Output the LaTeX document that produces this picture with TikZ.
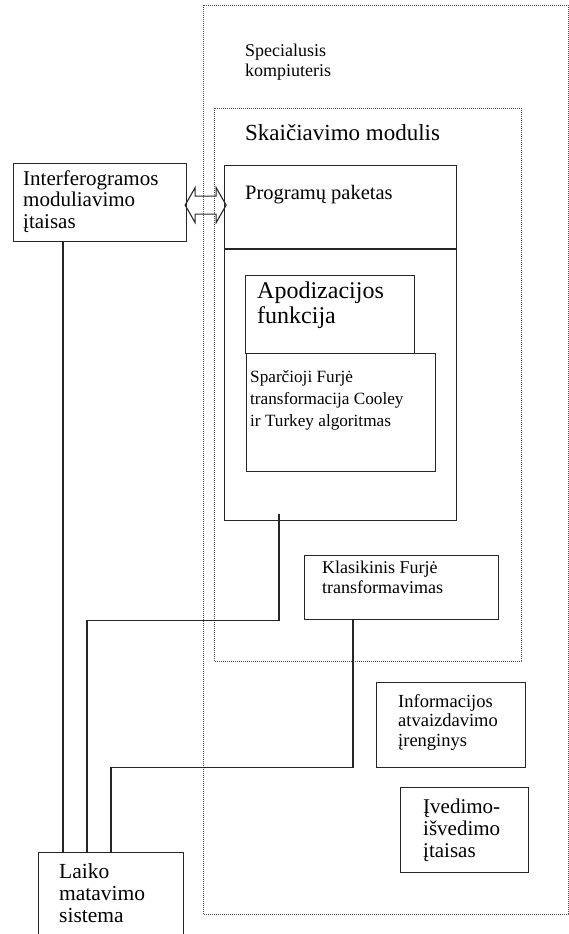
\documentclass[tikz,border=0pt]{standalone}
\usepackage{fontspec}
\setmainfont{Liberation Serif}
\usetikzlibrary{calc}

\tikzset{
  blokas/.style={draw=black!85, line width=1.3pt, anchor=north west, inner sep=0pt},
  taskuota/.style={draw=black!70, line width=0.8pt, dash pattern=on 0.8pt off 1.2pt},
  ryssys/.style={draw=black!85, line width=1.3pt},
  tekstas/.style={anchor=base west, inner sep=0pt, align=left},
}

\begin{document}
\begin{tikzpicture}[x=1pt,y=1pt,yscale=-1]
    \useasboundingbox (0,0) rectangle (569,934);
    \clip (0,0) rectangle (569,934);

    % dotted frames
    \draw [taskuota] (203,5) rectangle (568,914);
    \draw [taskuota] (214,108) rectangle (521,661);

    % boxes
    \node (interf) [blokas, minimum width=173pt, minimum height=78pt] at (13,163) {};
    \node (prog) [blokas, minimum width=232pt, minimum height=355pt] at (224,165) {};
    \draw [ryssys] (prog.north west |- 0,249) -- (prog.north east |- 0,249);
    \node (apod) [blokas, minimum width=169pt, minimum height=78pt] at (245,275) {};
    \node (sparc) [blokas, fill=white, minimum width=189pt, minimum height=118pt] at (246,353) {};
    \node (klas) [blokas, minimum width=194pt, minimum height=64pt] at (304,555) {};
    \node (info) [blokas, minimum width=149pt, minimum height=85pt] at (376,682) {};
    \node (ived) [blokas, minimum width=128pt, minimum height=85pt] at (400,787) {};
    \node (laiko) [blokas, minimum width=145pt, minimum height=100pt] at (38,852) {};

    % texts (anchored at the baseline of the last line)
    \draw (245,77) node (t-spec) [tekstas] [font=\fontsize{18}{20}\selectfont] {Specialusis\\kompiuteris};
    \draw (245,140) node (t-skai) [tekstas] [font=\fontsize{23}{25}\selectfont] {Skaičiavimo modulis};
    \draw (245,199) node (t-prog) [tekstas] [font=\fontsize{20.5}{22}\selectfont] {Programų paketas};
    \draw (23,228) node (t-interf) [tekstas] [font=\fontsize{21}{21.5}\selectfont] {Interferogramos\\moduliavimo\\įtaisas};
    \draw (257,323) node (t-apod) [tekstas] [font=\fontsize{24}{25}\selectfont] {Apodizacijos\\funkcija};
    \draw (250,426) node (t-sparc) [tekstas] [font=\fontsize{17.2}{22}\selectfont] {Sparčioji Furjė\\transformacija Cooley\\ir Turkey algoritmas};
    \draw (322,593) node (t-klas) [tekstas] [font=\fontsize{18}{20}\selectfont] {Klasikinis Furjė\\transformavimas};
    \draw (398,746) node (t-info) [tekstas] [font=\fontsize{18.5}{19.5}\selectfont] {Informacijos\\atvaizdavimo\\įrenginys};
    \draw (423,857) node (t-ived) [tekstas] [font=\fontsize{21}{22}\selectfont] {Įvedimo-\\išvedimo\\įtaisas};
    \draw (59,922) node (t-laiko) [tekstas] [font=\fontsize{21.5}{22}\selectfont] {Laiko\\matavimo\\sistema};

    % hollow double arrow
    \coordinate (dvi) at ($(interf.east)!0.5!(prog.west |- interf.east)+(0,2.5)$);
    \draw [ryssys, line width=1.1pt] (dvi) ++(-20.5,0) -- ++(10,-17.5) -- ++(0,8.5) -- ++(21,0) -- ++(0,-8.5)
        -- ++(10,17.5) -- ++(-10,17.5) -- ++(0,-8.5) -- ++(-21,0) -- ++(0,8.5) -- cycle;

    % connectors
    \draw [ryssys] ([xshift=50pt]interf.south west) -- ([xshift=25pt]laiko.north west);
    \draw [ryssys] ([shift={(55,-7)}]prog.south west) -- ++(0,106) -| ([xshift=49pt]laiko.north west);
    \draw [ryssys] ([xshift=49pt]klas.south west) -- ++(0,147) -| ([xshift=73pt]laiko.north west);
\end{tikzpicture}
\end{document}
